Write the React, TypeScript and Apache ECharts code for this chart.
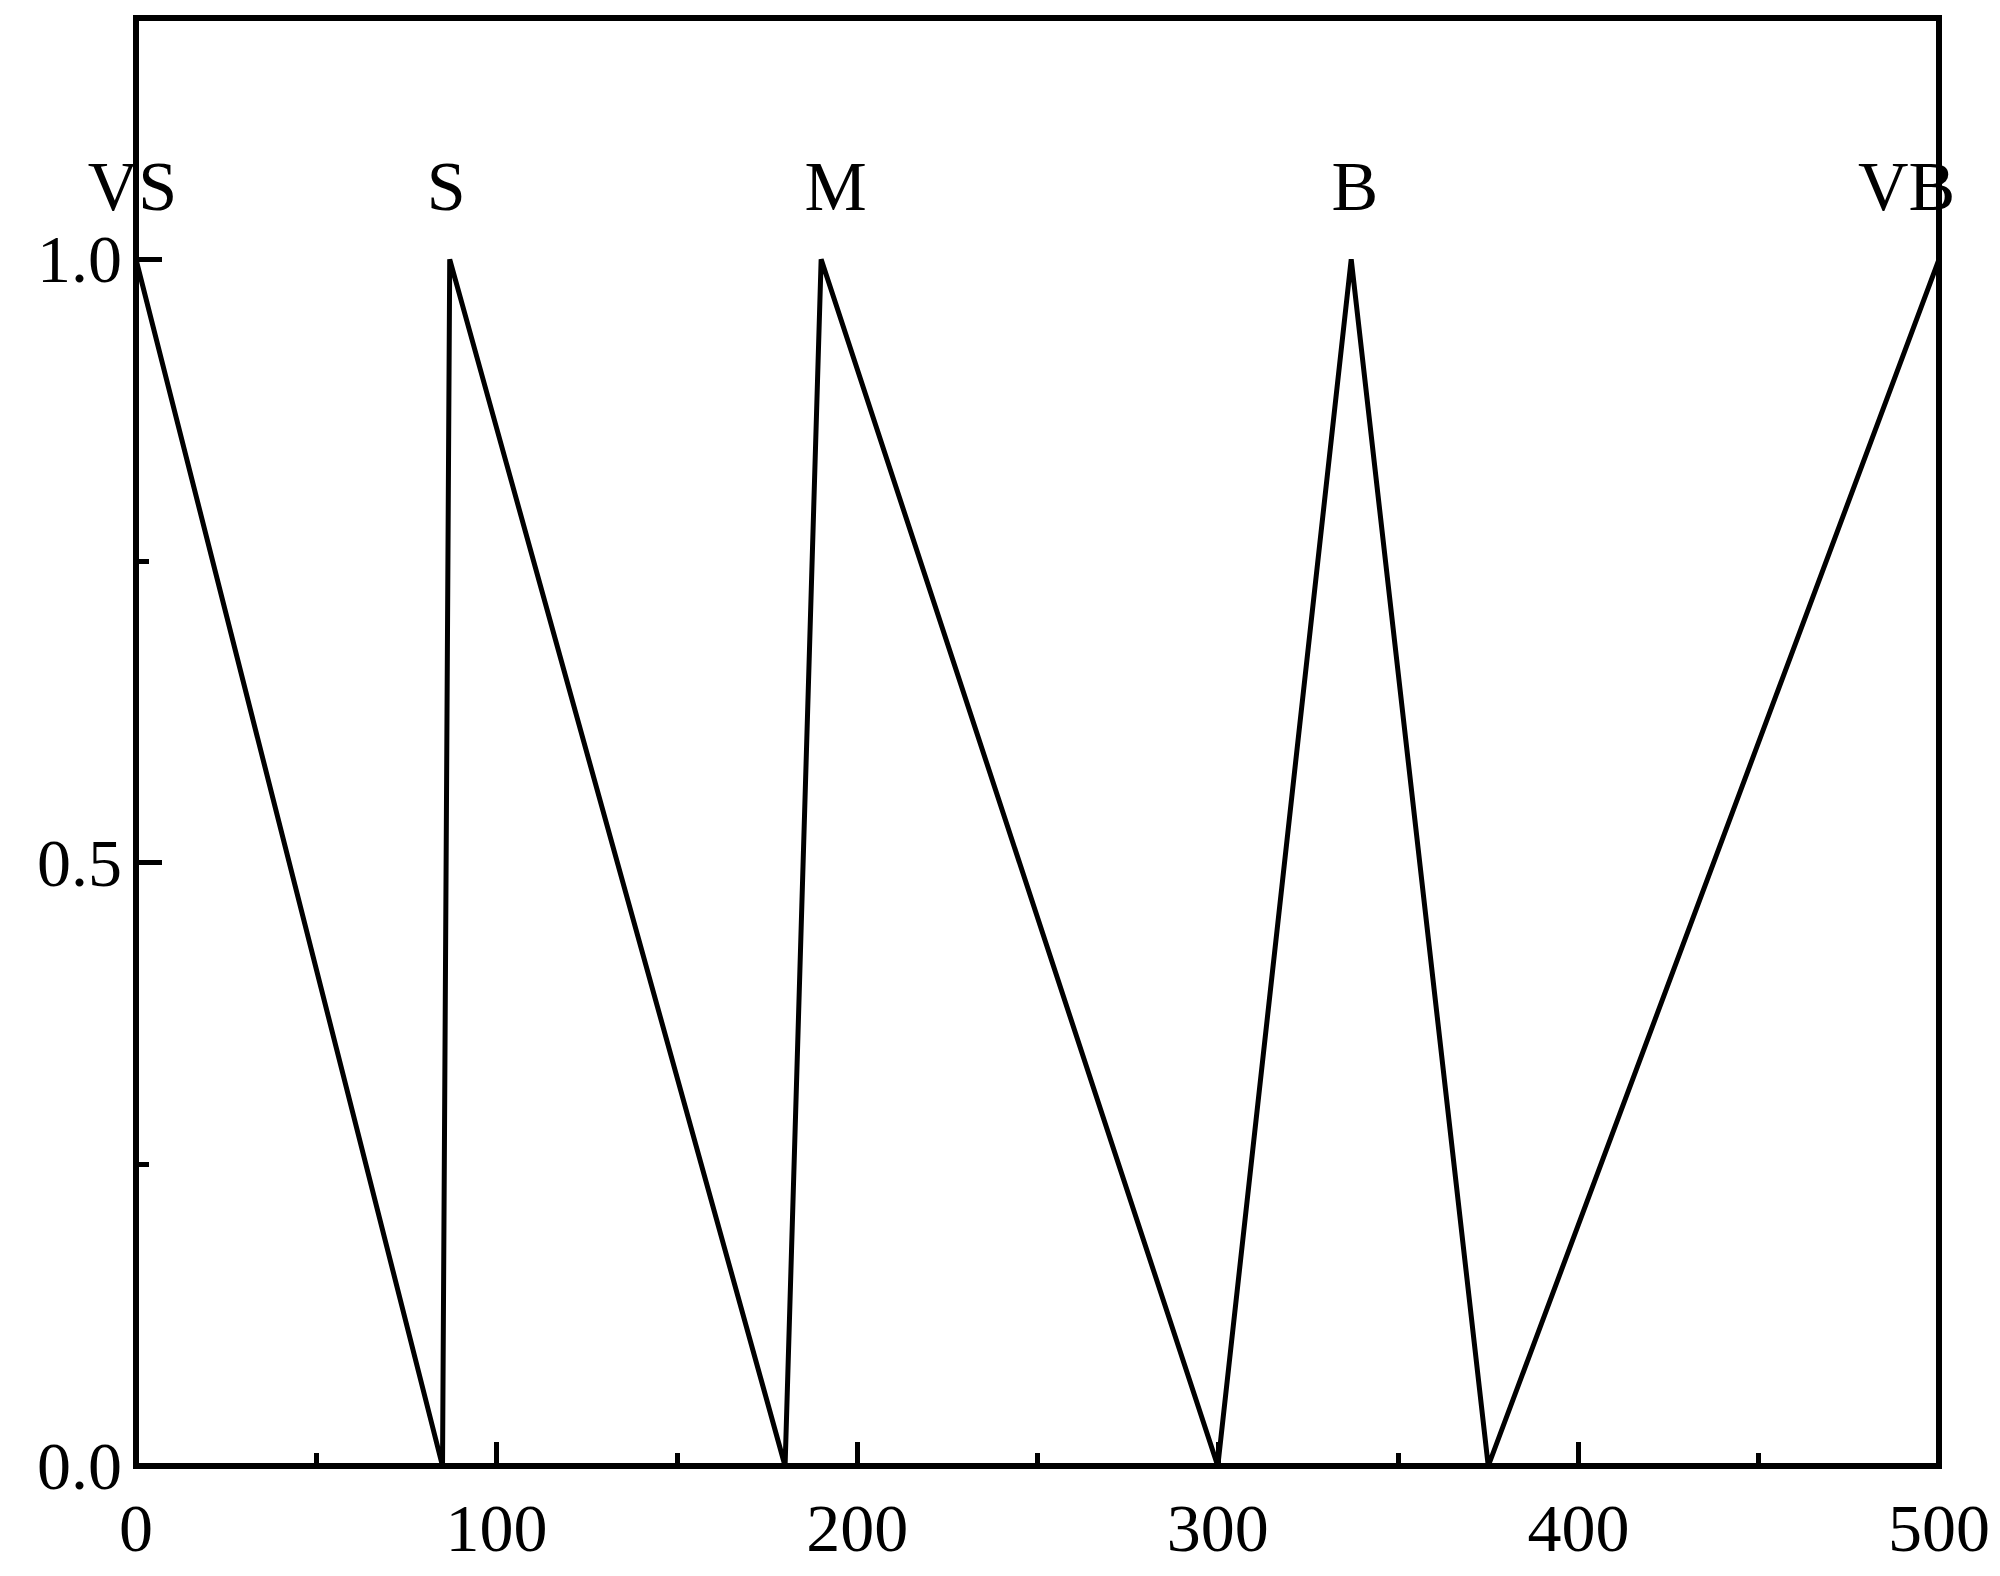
import React, { useEffect, useRef } from "react";
import * as echarts from "echarts";

const xValues = [0, 85, 87, 180, 190, 300, 337, 375, 500];
const yValues = [1, 0, 1, 0, 1, 0, 1, 0, 1];
const labelNames = ["VS", "S", "M", "B", "VB"];
const labelX = [-1, 86, 194, 338, 491];
const labelY = 1.06;
const yMajorTicks = [0, 0.5, 1.0];
const yMinorTicks = [0.25, 0.75];

const FONT = "Liberation Serif";

export default function App() {
  const ref = useRef<HTMLDivElement>(null);
  useEffect(() => {
    const chart = echarts.init(ref.current!, null, { renderer: "svg" });
    const lineData = xValues.map((x, i) => [x, yValues[i]]);
    const labelData = labelNames.map((n, i) => ({ name: n, value: [labelX[i], labelY] }));
    chart.setOption({
      animation: false,
      backgroundColor: "#fff",
      grid: {
        left: 136,
        right: 61,
        top: 18,
        bottom: 110,
        show: true,
        borderColor: "#000",
        borderWidth: 6,
        backgroundColor: "transparent",
      },
      xAxis: {
        type: "value",
        min: 0,
        max: 500,
        interval: 100,
        axisLine: { show: true, lineStyle: { color: "#000", width: 6 } },
        axisTick: { show: true, inside: true, length: 24, lineStyle: { color: "#000", width: 5 } },
        minorTick: { show: true, splitNumber: 2, length: 13, lineStyle: { color: "#000", width: 5 } },
        splitLine: { show: false },
        axisLabel: { color: "#000", fontFamily: FONT, fontSize: 68, margin: 28 },
      },
      yAxis: [
        {
          type: "value",
          min: 0,
          max: 1.2,
          axisLine: { show: true, lineStyle: { color: "#000", width: 6 } },
          axisTick: {
            show: true,
            inside: true,
            length: 26,
            customValues: yMajorTicks,
            lineStyle: { color: "#000", width: 5 },
          },
          splitLine: { show: false },
          axisLabel: {
            color: "#000",
            fontFamily: FONT,
            fontSize: 68,
            margin: 14,
            customValues: yMajorTicks,
            formatter: (v: number) => v.toFixed(1),
          },
        },
        {
          type: "value",
          min: 0,
          max: 1.2,
          position: "left",
          axisLine: { show: false },
          axisTick: {
            show: true,
            inside: true,
            length: 13,
            customValues: yMinorTicks,
            lineStyle: { color: "#000", width: 5 },
          },
          splitLine: { show: false },
          axisLabel: { show: false },
        },
      ],
      series: [
        {
          type: "line",
          data: lineData,
          symbol: "none",
          lineStyle: { color: "#000", width: 5 },
          clip: false,
        },
        {
          type: "scatter",
          data: labelData,
          symbolSize: 0,
          clip: false,
          itemStyle: { opacity: 1, color: "#000" },
          label: {
            show: true,
            formatter: "{b}",
            position: [0, 0],
            align: "center",
            verticalAlign: "middle",
            color: "#000",
            opacity: 1,
            textBorderWidth: 0,
            fontFamily: FONT,
            fontSize: 70,
          },
        },
      ],
    });
    return () => chart.dispose();
  }, []);
  return (
    <div
      ref={ref}
      style={{ position: "fixed", left: 0, top: 0, width: 2000, height: 1576 }}
    />
  );
}
